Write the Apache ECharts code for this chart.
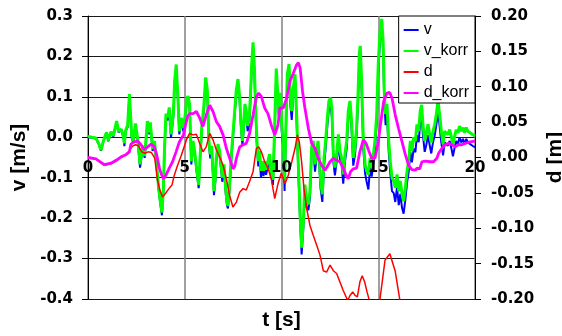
<!DOCTYPE html>
<html><head><meta charset="utf-8">
<script src="https://cdn.jsdelivr.net/npm/echarts@6/dist/echarts.min.js"></script>
<style>html,body{margin:0;padding:0;background:#fff}#c{width:562px;height:336px}</style>
</head><body><div id="c"></div>
<script>
// time samples for v / v_korr [s]
const tV = [0.00,0.20,0.41,0.55,0.67,0.78,0.88,0.96,1.05,1.19,1.31,1.48,1.58,1.72,1.84,1.88,1.95,2.05,2.14,2.26,2.34,2.45,2.57,2.69,2.83,2.93,3.07,3.17,3.22,3.34,3.44,3.55,3.65,3.74,3.82,3.89,3.96,4.03,4.12,4.20,4.29,4.41,4.48,4.56,4.65,4.72,4.82,4.93,5.03,5.10,5.17,5.25,5.34,5.43,5.51,5.63,5.72,5.80,5.89,5.98,6.08,6.17,6.25,6.32,6.39,6.46,6.51,6.58,6.63,6.72,6.80,6.89,6.94,7.03,7.11,7.18,7.23,7.32,7.41,7.49,7.58,7.66,7.75,7.84,7.91,7.98,8.05,8.11,8.18,8.25,8.32,8.39,8.46,8.53,8.60,8.66,8.73,8.80,8.87,8.94,9.00,9.07,9.14,9.20,9.29,9.38,9.47,9.56,9.65,9.73,9.80,9.87,9.95,10.01,10.09,10.16,10.23,10.30,10.39,10.46,10.53,10.61,10.70,10.78,10.87,10.96,11.04,11.13,11.21,11.30,11.39,11.47,11.56,11.64,11.73,11.82,11.89,11.96,12.02,12.11,12.20,12.28,12.37,12.45,12.54,12.61,12.68,12.76,12.85,12.94,13.02,13.11,13.19,13.28,13.37,13.45,13.54,13.62,13.71,13.80,13.88,13.95,14.02,14.07,14.14,14.23,14.32,14.40,14.49,14.58,14.66,14.75,14.83,14.92,15.00,15.09,15.18,15.25,15.31,15.38,15.45,15.54,15.62,15.71,15.80,15.88,15.97,16.06,16.14,16.23,16.31,16.40,16.49,16.57,16.66,16.74,16.83,16.92,17.00,17.09,17.17,17.24,17.31,17.40,17.48,17.57,17.66,17.74,17.83,17.92,18.00,18.09,18.17,18.26,18.35,18.43,18.52,18.60,18.69,18.77,18.86,18.95,19.03,19.12,19.20,19.29,19.38,19.46,19.55,19.63,19.75,19.87,20.00];
// v_korr [m/s]
const vKorr = [0.002,0.000,-0.002,-0.015,-0.032,-0.012,0.003,0.012,-0.008,0.014,0.004,0.040,0.014,0.020,0.000,-0.015,0.018,0.030,0.107,0.003,-0.009,0.034,-0.005,-0.067,-0.021,-0.046,0.040,0.012,0.037,-0.029,-0.009,-0.067,-0.125,-0.160,-0.186,-0.133,-0.020,0.058,0.050,0.074,0.007,0.058,0.140,0.180,0.098,0.015,0.048,0.023,0.058,0.095,0.102,0.082,-0.059,-0.009,-0.034,-0.083,-0.118,-0.042,0.032,0.073,0.148,0.115,-0.009,-0.042,-0.021,-0.083,-0.133,-0.100,-0.051,-0.017,-0.034,-0.075,-0.100,-0.067,-0.125,-0.158,-0.170,-0.117,-0.042,0.007,0.065,0.115,0.144,0.098,0.032,-0.009,0.032,0.082,0.065,0.028,0.040,0.098,0.181,0.235,0.173,0.073,-0.009,-0.059,-0.034,-0.083,-0.059,-0.083,-0.059,-0.080,-0.083,-0.042,-0.083,-0.105,0.032,0.170,0.115,0.057,0.110,0.032,-0.009,-0.108,0.032,0.156,0.181,0.098,0.065,0.123,0.156,0.057,-0.067,-0.190,-0.273,-0.207,-0.117,-0.158,-0.166,-0.133,-0.024,-0.009,-0.067,-0.034,-0.009,-0.059,-0.108,-0.141,-0.051,-0.009,0.048,0.090,0.098,0.065,-0.042,-0.075,-0.042,0.007,-0.034,-0.051,-0.092,-0.042,-0.009,0.065,0.090,0.040,-0.051,-0.024,0.024,0.098,0.206,0.226,0.140,-0.009,-0.067,-0.083,-0.092,-0.051,-0.075,-0.042,-0.009,0.057,0.181,0.260,0.293,0.239,0.115,0.057,0.082,-0.009,-0.059,-0.100,-0.108,-0.125,-0.092,-0.133,-0.108,-0.141,-0.158,-0.125,-0.083,-0.059,-0.009,-0.034,0.000,-0.009,0.032,0.015,0.065,0.080,0.032,-0.009,0.007,0.032,0.007,-0.013,0.015,0.032,0.057,0.090,0.057,0.015,-0.017,0.015,0.019,0.007,0.019,0.003,-0.017,0.003,0.019,0.011,0.028,0.015,0.024,0.011,0.024,0.015,0.011,0.007,0.003];
// v [m/s]
const v = [0.000,-0.001,-0.003,-0.016,-0.033,-0.013,0.002,0.011,-0.010,0.012,0.002,0.038,0.012,0.018,-0.002,-0.022,0.016,0.025,0.102,-0.002,-0.014,0.029,-0.010,-0.075,-0.026,-0.051,0.035,0.007,0.032,-0.034,-0.014,-0.072,-0.130,-0.165,-0.193,-0.138,-0.025,0.050,0.042,0.066,-0.001,0.050,0.132,0.172,0.090,0.007,0.040,0.015,0.050,0.087,0.094,0.074,-0.067,-0.017,-0.042,-0.091,-0.126,-0.050,0.024,0.065,0.138,0.105,-0.019,-0.052,-0.031,-0.093,-0.143,-0.110,-0.061,-0.027,-0.044,-0.085,-0.110,-0.077,-0.135,-0.168,-0.176,-0.127,-0.052,-0.003,0.055,0.105,0.134,0.088,0.022,-0.019,0.019,0.069,0.052,0.015,0.027,0.085,0.168,0.222,0.160,0.060,-0.022,-0.072,-0.047,-0.100,-0.072,-0.096,-0.072,-0.093,-0.096,-0.055,-0.096,-0.118,0.019,0.157,0.102,0.044,0.097,0.016,-0.025,-0.133,0.016,0.140,0.165,0.078,0.043,0.107,0.140,0.041,-0.083,-0.206,-0.290,-0.223,-0.133,-0.174,-0.180,-0.149,-0.040,-0.025,-0.085,-0.050,-0.025,-0.075,-0.127,-0.160,-0.070,-0.028,0.029,0.071,0.079,0.046,-0.061,-0.094,-0.061,-0.012,-0.053,-0.070,-0.115,-0.061,-0.028,0.046,0.071,0.021,-0.070,-0.043,0.005,0.079,0.184,0.204,0.118,-0.031,-0.089,-0.110,-0.129,-0.073,-0.097,-0.064,-0.031,0.035,0.159,0.238,0.271,0.217,0.093,0.030,0.058,-0.035,-0.087,-0.133,-0.138,-0.160,-0.124,-0.168,-0.140,-0.175,-0.189,-0.155,-0.112,-0.087,-0.037,-0.062,-0.028,-0.037,0.005,-0.012,0.038,0.053,0.005,-0.036,-0.020,0.005,-0.020,-0.040,-0.012,0.005,0.030,0.062,0.029,-0.013,-0.045,-0.013,-0.009,-0.021,-0.009,-0.025,-0.047,-0.025,-0.009,-0.017,0.000,-0.013,-0.004,-0.017,-0.004,-0.013,-0.017,-0.021,-0.025];
// d [m]
const tD = [0.00,0.41,0.84,1.19,1.45,1.71,1.96,2.14,2.30,2.45,2.60,2.78,2.95,3.11,3.28,3.45,3.58,3.69,3.85,4.00,4.18,4.34,4.46,4.63,4.81,4.98,5.10,5.25,5.43,5.60,5.77,5.94,6.11,6.29,6.46,6.63,6.80,6.98,7.15,7.32,7.49,7.67,7.84,8.01,8.18,8.35,8.53,8.70,8.82,8.96,9.13,9.30,9.47,9.65,9.82,9.99,10.09,10.18,10.35,10.53,10.70,10.82,10.92,11.04,11.16,11.30,11.47,11.64,11.82,11.99,12.16,12.33,12.51,12.68,12.85,13.02,13.19,13.42,13.54,13.68,13.80,13.92,14.05,14.17,14.30,14.42,14.56,14.75,14.95,15.09,15.35,15.60,15.87,16.12,16.40,16.70,17.00,17.50,18.00,18.50,19.00,19.50,20.00];
const d = [0.000,-0.002,-0.011,-0.009,-0.005,0.000,0.004,0.010,0.016,0.018,0.017,0.008,0.006,0.008,0.007,-0.001,-0.030,-0.044,-0.056,-0.051,-0.044,-0.039,-0.025,-0.011,0.002,0.016,0.026,0.034,0.032,0.033,0.020,0.008,0.015,0.034,0.025,0.011,0.001,-0.011,-0.030,-0.054,-0.070,-0.063,-0.049,-0.044,-0.046,-0.034,-0.020,0.013,0.015,0.008,-0.006,-0.015,-0.030,-0.058,-0.037,-0.022,-0.020,-0.037,-0.025,-0.006,0.013,0.032,0.022,-0.006,-0.044,-0.072,-0.096,-0.110,-0.124,-0.138,-0.160,-0.162,-0.152,-0.160,-0.164,-0.176,-0.188,-0.202,-0.195,-0.190,-0.195,-0.197,-0.176,-0.167,-0.176,-0.190,-0.204,-0.215,-0.212,-0.200,-0.145,-0.136,-0.160,-0.202,-0.235,-0.248,-0.250,-0.252,-0.250,-0.255,-0.258,-0.262,-0.265];
// d_korr [m]
const tDK = [0.00,0.41,0.84,1.19,1.45,1.71,1.96,2.14,2.22,2.39,2.57,2.74,2.91,3.08,3.26,3.43,3.55,3.69,3.81,3.91,4.03,4.20,4.37,4.55,4.72,4.93,5.06,5.15,5.25,5.43,5.60,5.77,5.94,6.11,6.29,6.46,6.63,6.80,6.98,7.15,7.32,7.49,7.58,7.67,7.84,8.01,8.18,8.35,8.53,8.70,8.82,8.96,9.13,9.30,9.47,9.65,9.82,9.92,10.09,10.27,10.44,10.61,10.78,10.87,10.96,11.09,11.21,11.39,11.56,11.73,11.90,12.07,12.25,12.33,12.51,12.68,12.85,13.02,13.19,13.37,13.45,13.57,13.71,13.88,14.05,14.23,14.37,14.49,14.66,14.83,15.00,15.11,15.28,15.45,15.59,15.71,15.88,16.05,16.23,16.40,16.57,16.74,16.92,17.00,17.14,17.26,17.43,17.69,17.86,18.03,18.12,18.29,18.46,18.63,18.80,18.97,19.14,19.32,19.49,19.75,20.00];
const dKorr = [0.000,-0.002,-0.010,-0.008,-0.004,0.001,0.004,0.008,0.019,0.022,0.023,0.018,0.011,0.015,0.019,0.015,0.004,-0.015,-0.025,-0.030,-0.025,-0.015,-0.006,0.008,0.022,0.032,0.048,0.058,0.062,0.062,0.065,0.056,0.044,0.060,0.074,0.065,0.051,0.044,0.032,0.013,-0.001,-0.016,-0.013,-0.001,0.015,0.018,0.020,0.034,0.060,0.086,0.091,0.086,0.070,0.062,0.046,0.032,0.046,0.070,0.070,0.084,0.108,0.119,0.131,0.134,0.127,0.093,0.070,0.041,0.020,0.013,-0.001,-0.011,-0.018,-0.018,-0.006,-0.001,-0.004,-0.006,-0.015,-0.027,-0.030,-0.020,-0.016,-0.015,0.008,0.025,0.020,0.011,-0.001,-0.001,0.022,0.046,0.079,0.091,0.092,0.084,0.060,0.041,0.022,0.004,-0.011,-0.017,-0.018,-0.015,-0.016,-0.006,-0.005,-0.006,-0.006,-0.001,0.006,0.013,0.018,0.020,0.018,0.015,0.018,0.018,0.020,0.022,0.023];

const pairs = (ts, ys) => ts.map((t, i) => [t, ys[i]]);

const chart = echarts.init(document.getElementById('c'), null, {renderer: 'canvas'});
const tickFont = {fontFamily: 'DejaVu Sans', fontWeight: 'bold', fontSize: 15, color: '#000'};
const titleFont = {fontFamily: 'Liberation Sans', fontWeight: 'bold', fontSize: 21, color: '#000'};
const fmt = (n, k) => (Math.abs(n) < 1e-9 ? 0 : n).toFixed(k);

chart.setOption({
  animation: false,
  backgroundColor: '#fff',
  grid: {left: 88, right: 87, top: 16, bottom: 37, containLabel: false, outerBoundsMode: 'none'},
  legend: {
    orient: 'vertical', right: 87, top: 16,
    padding: [6, 6, 2, 5],
    backgroundColor: '#fff', borderColor: '#000', borderWidth: 1,
    icon: 'rect', itemWidth: 15, itemHeight: 2, itemGap: 5, itemTextGap: 3,
    textStyle: {fontFamily: 'Liberation Sans', fontSize: 16, color: '#000', lineHeight: 16},
    data: ['v', 'v_korr', 'd', 'd_korr']
  },
  xAxis: [
    {
      type: 'value', min: 0, max: 20, interval: 5, position: 'bottom',
      axisLine: {show: false, onZero: false}, axisTick: {show: false}, axisLabel: {show: false},
      splitLine: {show: true, lineStyle: {color: '#808080', width: 1.5}},
      name: 't [s]', nameLocation: 'middle', nameGap: 11, nameTextStyle: titleFont
    },
    {
      type: 'value', min: 0, max: 20, interval: 5, position: 'bottom', offset: -141.5, z: 20,
      axisLine: {show: false, onZero: false},
      axisTick: {show: false}, splitLine: {show: false},
      axisLabel: Object.assign({margin: 3}, tickFont)
    }
  ],
  yAxis: [
    {
      type: 'value', min: -0.4, max: 0.3, interval: 0.1, position: 'left',
      axisLine: {show: true, onZero: false, lineStyle: {color: '#000', width: 1}},
      axisTick: {show: true, inside: false, length: 6, lineStyle: {color: '#000', width: 1}},
      axisLabel: Object.assign({margin: 15, formatter: n => fmt(n, 1)}, tickFont),
      splitLine: {show: true, lineStyle: {color: '#1a1a1a', width: 1.2}},
      name: 'v [m/s]', nameLocation: 'middle', nameRotate: 90, nameGap: 56, nameTextStyle: titleFont
    },
    {
      type: 'value', min: -0.2, max: 0.2, interval: 0.05, position: 'right',
      axisLine: {show: true, onZero: false, lineStyle: {color: '#000', width: 1}},
      axisTick: {show: true, inside: false, length: 6, lineStyle: {color: '#000', width: 1}},
      axisLabel: Object.assign({margin: 16, formatter: n => fmt(n, 2)}, tickFont),
      splitLine: {show: false},
      name: 'd [m]', nameLocation: 'middle', nameRotate: 90, nameGap: 62, nameTextStyle: titleFont
    }
  ],
  series: [
    {name: 'v', type: 'line', xAxisIndex: 0, yAxisIndex: 0, data: pairs(tV, v), symbol: 'none', clip: true,
     lineStyle: {color: '#0000ff', width: 2}, itemStyle: {color: '#0000ff'}},
    {name: 'v_korr', type: 'line', xAxisIndex: 0, yAxisIndex: 0, data: pairs(tV, vKorr), symbol: 'none', clip: true,
     lineStyle: {color: '#00ff00', width: 3}, itemStyle: {color: '#00ff00'}},
    {name: 'd', type: 'line', xAxisIndex: 0, yAxisIndex: 1, data: pairs(tD, d), symbol: 'none', clip: true,
     lineStyle: {color: '#ff0000', width: 1.5}, itemStyle: {color: '#ff0000'}},
    {name: 'd_korr', type: 'line', xAxisIndex: 0, yAxisIndex: 1, data: pairs(tDK, dKorr), symbol: 'none', clip: true,
     lineStyle: {color: '#ff00ff', width: 2.8}, itemStyle: {color: '#ff00ff'}}
  ]
});
</script>
</body></html>
